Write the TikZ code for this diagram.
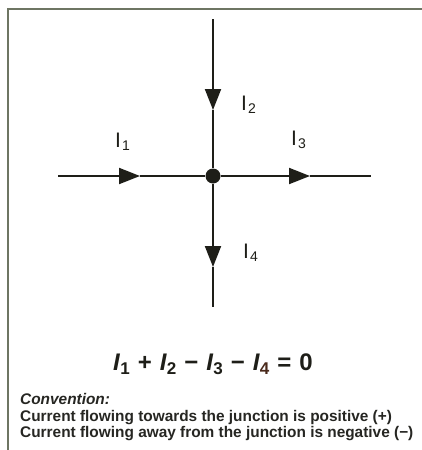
\documentclass[tikz,border=0pt]{standalone}
\usepackage{fontspec}
\setmainfont{Liberation Sans}
\usetikzlibrary{arrows.meta}
\definecolor{ln}{HTML}{1E1E18}
\definecolor{framec}{HTML}{6E7563}
\definecolor{txt}{HTML}{262622}
\definecolor{brn}{HTML}{4A2A1C}
\newcommand{\lsub}[1]{\hspace{1pt}\raisebox{-3pt}{\fontsize{14}{14}\selectfont #1}}
\newcommand{\esub}[1]{\raisebox{-4pt}{\fontsize{17}{17}\selectfont #1}}
\newcommand{\gap}{\hspace{8pt}}
\begin{document}
\begin{tikzpicture}[x=1pt,y=-1pt,
  wire/.style={line width=2pt,draw=ln},
  arr/.style={wire,-{Triangle[length=21pt,width=16pt]}},
  lbl/.style={font=\fontsize{21}{21}\selectfont, text=ln, inner sep=0pt, anchor=base west},
  note/.style={font=\fontsize{15.4}{15.4}\selectfont\bfseries, text=txt, inner sep=0pt, anchor=base west}]
\useasboundingbox (0,0) rectangle (422,450);
\fill[white] (0,0) rectangle (422,450);
\draw[framec, line width=2pt] (8,450) -- (8,8.5) -- (422,8.5);
% junction and wire ends
\node[circle, fill=ln, minimum size=15pt, inner sep=0pt] (J) at (213,176) {};
\coordinate (L) at (58,176);
\coordinate (R) at (371,176);
\coordinate (T) at (213,19);
\coordinate (B) at (213,307);
\coordinate (a1) at (140,176);
\coordinate (a3) at (310,176);
\coordinate (a2) at (213,110);
\coordinate (a4) at (213,267);
\draw[arr] (L) -- (a1);
\draw[wire] (a1) -- (J);
\draw[arr] (J) -- (a3);
\draw[wire] (a3) -- (R);
\draw[arr] (T) -- (a2);
\draw[wire] (a2) -- (J);
\draw[arr] (J) -- (a4);
\draw[wire] (a4) -- (B);
% labels
\node[lbl] (l1) at (115,147) {I\lsub{1}};
\node[lbl] (l2) at (241,110) {I\lsub{2}};
\node[lbl] (l3) at (291,145) {I\lsub{3}};
\node[lbl] (l4) at (243,258) {I\lsub{4}};
% equation
\node[font=\fontsize{24}{24}\selectfont\bfseries, text=ln, inner sep=0pt, anchor=base] (eq) at (213,370)
  {\textit{I}\esub{1}\gap+\gap\textit{I}\esub{2}\gap−\gap\textit{I}\esub{3}\gap−\gap\textit{I}\esub{\textcolor{brn}{4}}\gap=\gap0};
% convention
\node[note] (c0) at (20,404) {\textit{Convention:}};
\node[note] (c1) at (20,421) {Current flowing towards the junction is positive (+)};
\node[note] (c2) at (20,437) {Current flowing away from the junction is negative (−)};
\end{tikzpicture}
\end{document}
